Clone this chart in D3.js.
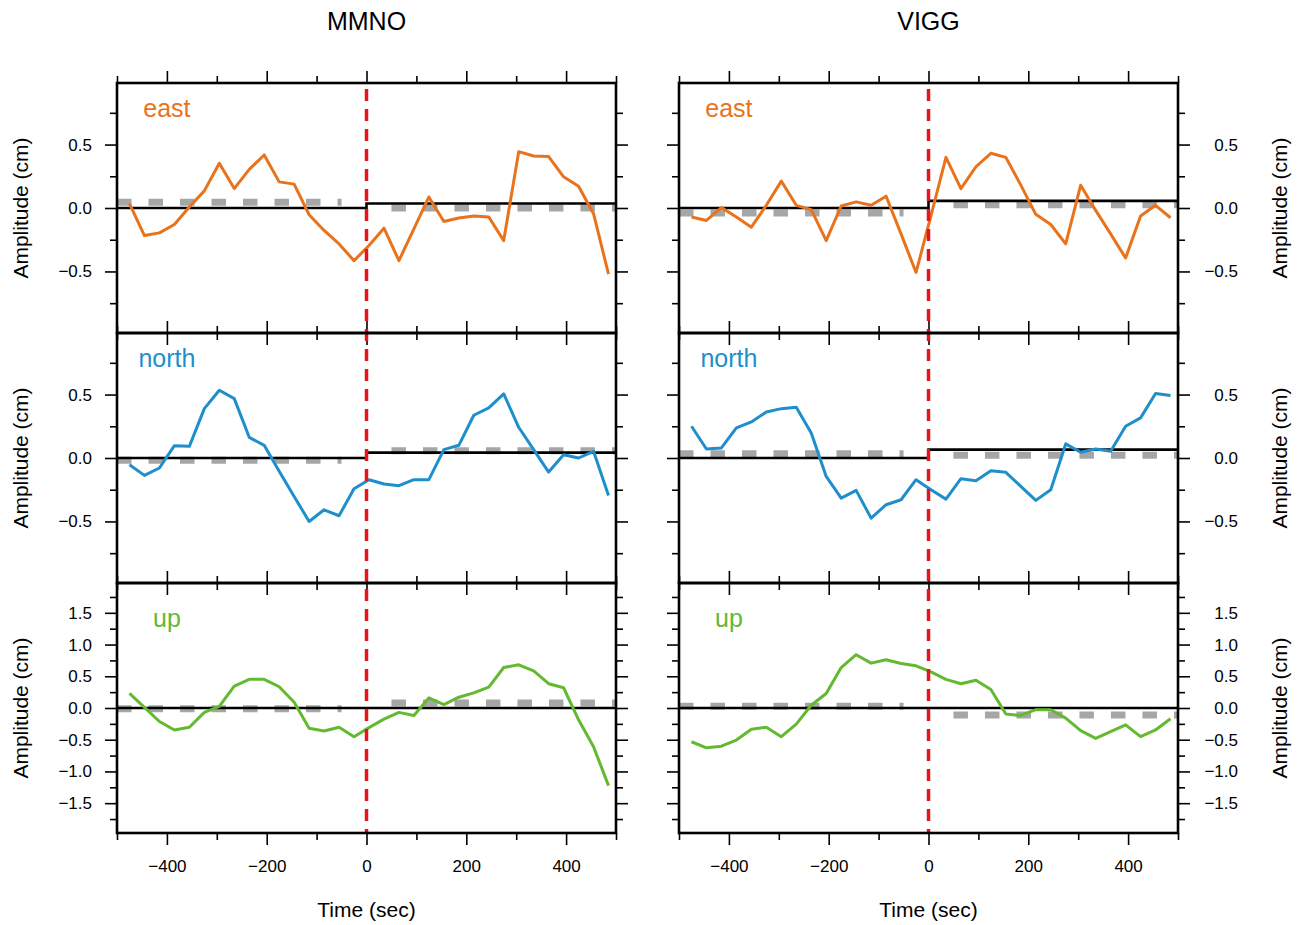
<!DOCTYPE html>
<html><head><meta charset="utf-8">
<script src="https://cdn.jsdelivr.net/npm/d3@7"></script>
<style>
body{margin:0;background:#fff}
svg text{font-family:"Liberation Sans",Arial,Helvetica,sans-serif;fill:#000}
</style>
</head><body>
<svg id="c" width="1302" height="925"></svg>
<script>
// ---------- data ----------
const stations = ["MMNO", "VIGG"];
const components = ["east", "north", "up"];
const times = [-475,-445,-415,-385,-355,-325,-295,-265,-235,-205,-175,-145,-115,-85,-55,-25,5,35,65,95,125,155,185,215,245,275,305,335,365,395,425,455,485];

const mmnoEast  = [0.034,-0.217,-0.196,-0.13,0.008,0.135,0.352,0.153,0.304,0.418,0.206,0.188,-0.053,-0.177,-0.283,-0.415,-0.296,-0.159,-0.415,-0.164,0.087,-0.106,-0.079,-0.063,-0.071,-0.257,0.444,0.41,0.405,0.246,0.172,-0.045,-0.521];
const mmnoNorth = [-0.053,-0.137,-0.079,0.097,0.092,0.389,0.534,0.468,0.163,0.1,-0.105,-0.303,-0.5,-0.408,-0.455,-0.242,-0.171,-0.205,-0.218,-0.171,-0.171,0.066,0.1,0.337,0.395,0.505,0.242,0.066,-0.111,0.026,0.0,0.053,-0.295];
const mmnoUp    = [0.229,0.011,-0.213,-0.346,-0.303,-0.069,0.027,0.346,0.452,0.452,0.335,0.09,-0.319,-0.362,-0.303,-0.452,-0.309,-0.176,-0.069,-0.117,0.16,0.053,0.17,0.239,0.33,0.638,0.681,0.585,0.383,0.319,-0.186,-0.612,-1.223];
const viggEast  = [-0.071,-0.098,0.003,-0.071,-0.151,0.021,0.212,0.021,-0.013,-0.257,0.016,0.048,0.021,0.093,-0.204,-0.508,-0.06,0.399,0.153,0.325,0.431,0.399,0.18,-0.05,-0.13,-0.283,0.18,-0.019,-0.204,-0.394,-0.063,0.021,-0.077];
const viggNorth = [0.25,0.071,0.079,0.237,0.284,0.363,0.389,0.4,0.197,-0.145,-0.316,-0.255,-0.474,-0.368,-0.329,-0.171,-0.25,-0.324,-0.163,-0.179,-0.1,-0.113,-0.224,-0.334,-0.25,0.111,0.045,0.071,0.053,0.25,0.316,0.508,0.492];
const viggUp    = [-0.532,-0.628,-0.601,-0.505,-0.335,-0.303,-0.452,-0.255,0.043,0.229,0.638,0.84,0.707,0.761,0.702,0.665,0.569,0.452,0.383,0.436,0.293,-0.096,-0.117,-0.027,-0.027,-0.16,-0.356,-0.479,-0.372,-0.266,-0.452,-0.346,-0.17];

// model step (black) : level before / after time 0, per component east,north,up
const mmnoStepBefore = [0, 0, 0];
const mmnoStepAfter  = [0.035, 0.042, 0];
const viggStepBefore = [0, 0, 0];
const viggStepAfter  = [0.056, 0.066, 0];
// grey dashed estimate levels before / after
const mmnoGreyBefore = [0.045, -0.018, -0.01];
const mmnoGreyAfter  = [0.0, 0.058, 0.08];
const viggGreyBefore = [-0.04, 0.034, 0.027];
const viggGreyAfter  = [0.026, 0.021, -0.11];
const greyBeforeSpan = [-500, -50];
const greyAfterSpan  = [50, 500];
const stepTime = 0;

const xDomain = [-500, 500];
const xTicksMajor = [-400, -200, 0, 200, 400];
const xTicksMinor = [-500, -300, -100, 100, 300, 500];
const yDomainHoriz = [-0.985, 0.985];
const yDomainUp = [-1.97, 1.97];
const yMajorHoriz = [-0.5, 0, 0.5];
const yMinorHoriz = [-0.75, -0.25, 0.25, 0.75];
const yMajorUp = [-1.5, -1, -0.5, 0, 0.5, 1, 1.5];
const yMinorUp = [-1.75, -1.25, -0.75, -0.25, 0.25, 0.75, 1.25, 1.75];
const xLabel = "Time (sec)";
const yLabel = "Amplitude (cm)";

// ---------- tables built from arrays ----------
const series = {
  MMNO: {vals: [mmnoEast, mmnoNorth, mmnoUp], sb: mmnoStepBefore, sa: mmnoStepAfter, gb: mmnoGreyBefore, ga: mmnoGreyAfter},
  VIGG: {vals: [viggEast, viggNorth, viggUp], sb: viggStepBefore, sa: viggStepAfter, gb: viggGreyBefore, ga: viggGreyAfter}
};
const compColors = ["#E8731C", "#1F8FCB", "#63B92F"];

// ---------- layout ----------
const panelX = [[117, 616], [679, 1178]];
const rowY = [[83, 333], [333, 583], [583, 833]];
const labelBaseline = [117, 367, 627];

const svg = d3.select("#c");
const fmtY = d3.format(".1f");
const fmtX = d3.format("d");

function styleAxis(g, labels) {
  g.select(".domain").remove();
  g.selectAll(".tick line").attr("stroke", "#000").attr("stroke-width", 1.6);
  g.selectAll(".tick text").style("font-size", "17px");
  if (!labels) g.selectAll(".tick text").remove();
}

stations.forEach((st, si) => {
  const [x0, x1] = panelX[si];
  const x = d3.scaleLinear().domain(xDomain).range([x0, x1]);
  const S = series[st];

  svg.append("text").attr("x", (x0 + x1) / 2).attr("y", 30)
    .attr("text-anchor", "middle").style("font-size", "25px").text(st);

  components.forEach((comp, ci) => {
    const [y0, y1] = rowY[ci];
    const y = d3.scaleLinear().domain(ci === 2 ? yDomainUp : yDomainHoriz).range([y1, y0]);
    const major = ci === 2 ? yMajorUp : yMajorHoriz;
    const minor = ci === 2 ? yMinorUp : yMinorHoriz;
    const g = svg.append("g");

    // grey dashed
    const greyLine = d3.line().x(d => x(d[0])).y(d => y(d[1]));
    [[greyBeforeSpan, S.gb[ci]], [greyAfterSpan, S.ga[ci]]].forEach(([span, v]) => {
      g.append("path").attr("d", greyLine([[span[0], v], [span[1], v]]))
        .attr("fill", "none").attr("stroke", "#A6A6A6").attr("stroke-width", 7)
        .attr("stroke-dasharray", "14.5,17");
    });
    // black step
    const stepPts = [[xDomain[0], S.sb[ci]], [stepTime, S.sb[ci]], [stepTime, S.sa[ci]], [xDomain[1], S.sa[ci]]];
    g.append("path").attr("d", d3.line().x(d => x(d[0])).y(d => y(d[1]))(stepPts))
      .attr("fill", "none").attr("stroke", "#000").attr("stroke-width", 2.6);
    // data line
    const vals = S.vals[ci];
    g.append("path").datum(times.map((t, i) => [t, vals[i]]))
      .attr("d", d3.line().x(d => x(d[0])).y(d => y(d[1])))
      .attr("fill", "none").attr("stroke", compColors[ci]).attr("stroke-width", 3)
      .attr("stroke-linejoin", "round");

    // component label
    g.append("text").attr("x", x(-400)).attr("y", labelBaseline[ci])
      .attr("text-anchor", "middle").style("font-size", "25px")
      .style("fill", compColors[ci]).text(comp);

    // axes
    const addAxis = (axisFn, scale, tr, vals, size, labels) => {
      const ax = svg.append("g").attr("transform", tr)
        .call(axisFn(scale).tickValues(vals).tickSize(size).tickPadding(13)
          .tickFormat(scale === x ? fmtX : fmtY));
      styleAxis(ax, labels);
      return ax;
    };
    addAxis(d3.axisTop, x, `translate(0,${y0})`, xTicksMinor, 7, false);
    addAxis(d3.axisTop, x, `translate(0,${y0})`, xTicksMajor, 12, false);
    addAxis(d3.axisBottom, x, `translate(0,${y1})`, xTicksMinor, 7, false);
    const bx = addAxis(d3.axisBottom, x, `translate(0,${y1})`, xTicksMajor, 12, ci === 2);
    bx.selectAll(".tick text").attr("y", 39).attr("dy", 0);

    addAxis(d3.axisLeft, y, `translate(${x0},0)`, minor, 7, false);
    addAxis(d3.axisLeft, y, `translate(${x0},0)`, major, 12, si === 0);
    addAxis(d3.axisRight, y, `translate(${x1},0)`, minor, 7, false);
    const ry = addAxis(d3.axisRight, y, `translate(${x1},0)`, major, 12, si === 1);
    ry.selectAll(".tick text").attr("x", 60).attr("text-anchor", "end");

    // y label
    const cy = (y0 + y1) / 2;
    const lx = si === 0 ? 28 : 1287;
    svg.append("text").attr("transform", `translate(${lx},${cy}) rotate(-90)`)
      .attr("text-anchor", "middle").style("font-size", "21px").text(yLabel);
  });

  // x label
  svg.append("text").attr("x", (x0 + x1) / 2).attr("y", 917)
    .attr("text-anchor", "middle").style("font-size", "21px").text(xLabel);

  // red dashed at t = 0
  svg.append("line").attr("x1", x(stepTime)).attr("x2", x(stepTime))
    .attr("y1", rowY[0][0]).attr("y2", rowY[2][1])
    .attr("stroke", "#E8141B").attr("stroke-width", 3.5).attr("stroke-dasharray", "12,8")
    .attr("stroke-dashoffset", -6);

  // panel borders
  rowY.forEach(([y0, y1]) => {
    svg.append("rect").attr("x", x0).attr("y", y0).attr("width", x1 - x0).attr("height", y1 - y0)
      .attr("fill", "none").attr("stroke", "#000").attr("stroke-width", 2.6);
  });
});
</script>
</body></html>
